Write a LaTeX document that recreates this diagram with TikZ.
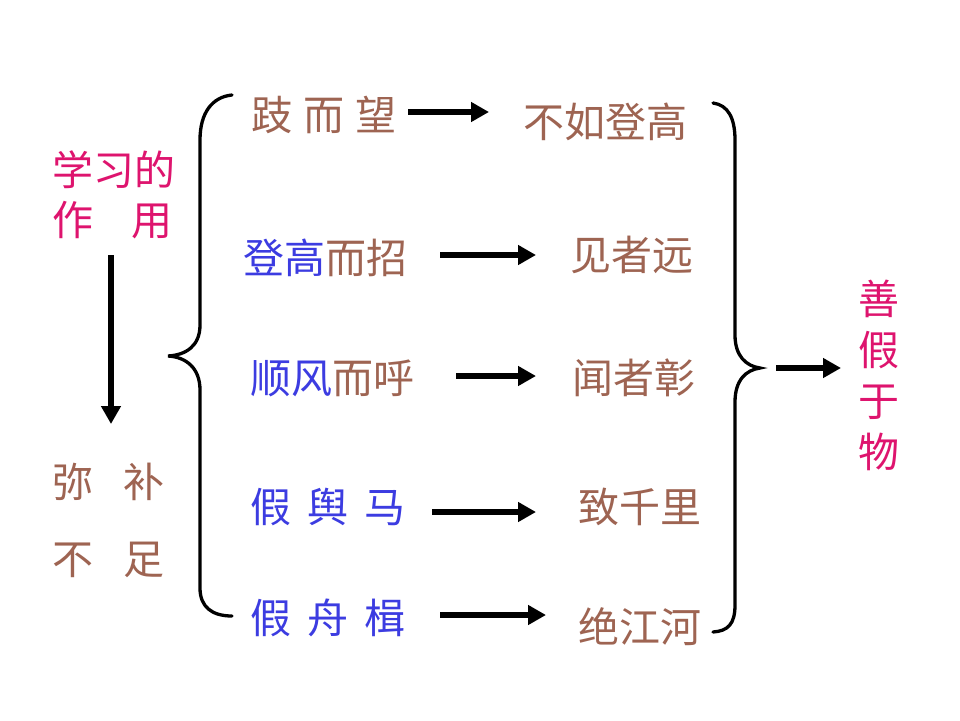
\documentclass[tikz,border=0pt]{standalone}
\usepackage{fontspec}
\setmainfont{Noto Sans CJK SC}
\usetikzlibrary{arrows.meta}
\definecolor{tbrown}{RGB}{158,100,82}
\definecolor{tpink}{RGB}{222,20,110}
\definecolor{tblue}{RGB}{60,60,225}
\tikzset{
  txt/.style={inner sep=0pt, anchor=west, text=tbrown, font=\fontsize{41}{46}\selectfont},
  bigarrow/.style={line width=5.5pt, -{Triangle[length=18pt,width=19pt]}},
  bracepath/.style={line width=3.3pt, line cap=round},
}
\begin{document}
\begin{tikzpicture}[x=1pt,y=-1pt]
\useasboundingbox (0,0) rectangle (960,720);
\fill[white] (0,0) rectangle (960,720);

% left column
\node[txt, text=tpink] (xx) at (52,170) {学习的};
\node[txt, text=tpink] (zy) at (52,220) {作\hspace{38pt}用};
\node[txt] (mb) at (52,482) {弥\hspace{30pt}补};
\node[txt] (bz) at (52,560) {不\hspace{30pt}足};
\coordinate (va) at (111,255);
\coordinate (vb) at (111,424);
\draw[bigarrow] (va) -- (vb);

% left brace
\draw[bracepath] (232,95) .. controls (212,97) and (200,113) .. (200,140) -- (200,325)
  .. controls (200,346) and (186,355) .. (168,356)
  .. controls (186,357) and (200,368) .. (200,390) -- (200,588)
  .. controls (200,607) and (212,616) .. (232,616);

% middle column (causes)
\node[txt] (l1) at (251,115) {跂\hspace{11pt}而\hspace{11pt}望};
\node[txt] (l2) at (243,258) {\textcolor{tblue}{登高}而招};
\node[txt] (l3) at (250,378) {\textcolor{tblue}{顺风}而呼};
\node[txt, text=tblue] (l4) at (250,507) {假\hspace{16pt}舆\hspace{16pt}马};
\node[txt, text=tblue] (l5) at (250,618) {假\hspace{16pt}舟\hspace{16pt}楫};

% results
\node[txt] (r1) at (523,122) {不如登高};
\node[txt] (r2) at (570,255) {见者远};
\node[txt] (r3) at (572,378) {闻者彰};
\node[txt] (r4) at (578,507) {致千里};
\node[txt] (r5) at (578,627) {绝江河};

% arrows
\coordinate (a1s) at (408,112); \coordinate (a1e) at (489,112);
\coordinate (a2s) at (440,255); \coordinate (a2e) at (536,255);
\coordinate (a3s) at (456,376); \coordinate (a3e) at (536,376);
\coordinate (a4s) at (432,512); \coordinate (a4e) at (536,512);
\coordinate (a5s) at (440,615); \coordinate (a5e) at (546,615);
\draw[bigarrow] (a1s) -- (a1e);
\draw[bigarrow] (a2s) -- (a2e);
\draw[bigarrow] (a3s) -- (a3e);
\draw[bigarrow] (a4s) -- (a4e);
\draw[bigarrow] (a5s) -- (a5e);

% right brace
\draw[bracepath] (713,103) .. controls (728,105) and (735,118) .. (735,140) -- (735,335)
  .. controls (735,356) and (746,366) .. (760,368)
  .. controls (746,370) and (735,380) .. (735,402) -- (735,605)
  .. controls (735,624) and (728,631) .. (713,632);

% conclusion
\coordinate (cs) at (776,368); \coordinate (ce) at (841,368);
\draw[bigarrow] (cs) -- (ce);
\node[inner sep=0pt, align=center, text=tpink, font=\fontsize{41}{51}\selectfont] (sj) at (879,375) {善\\假\\于\\物};
\end{tikzpicture}
\end{document}
